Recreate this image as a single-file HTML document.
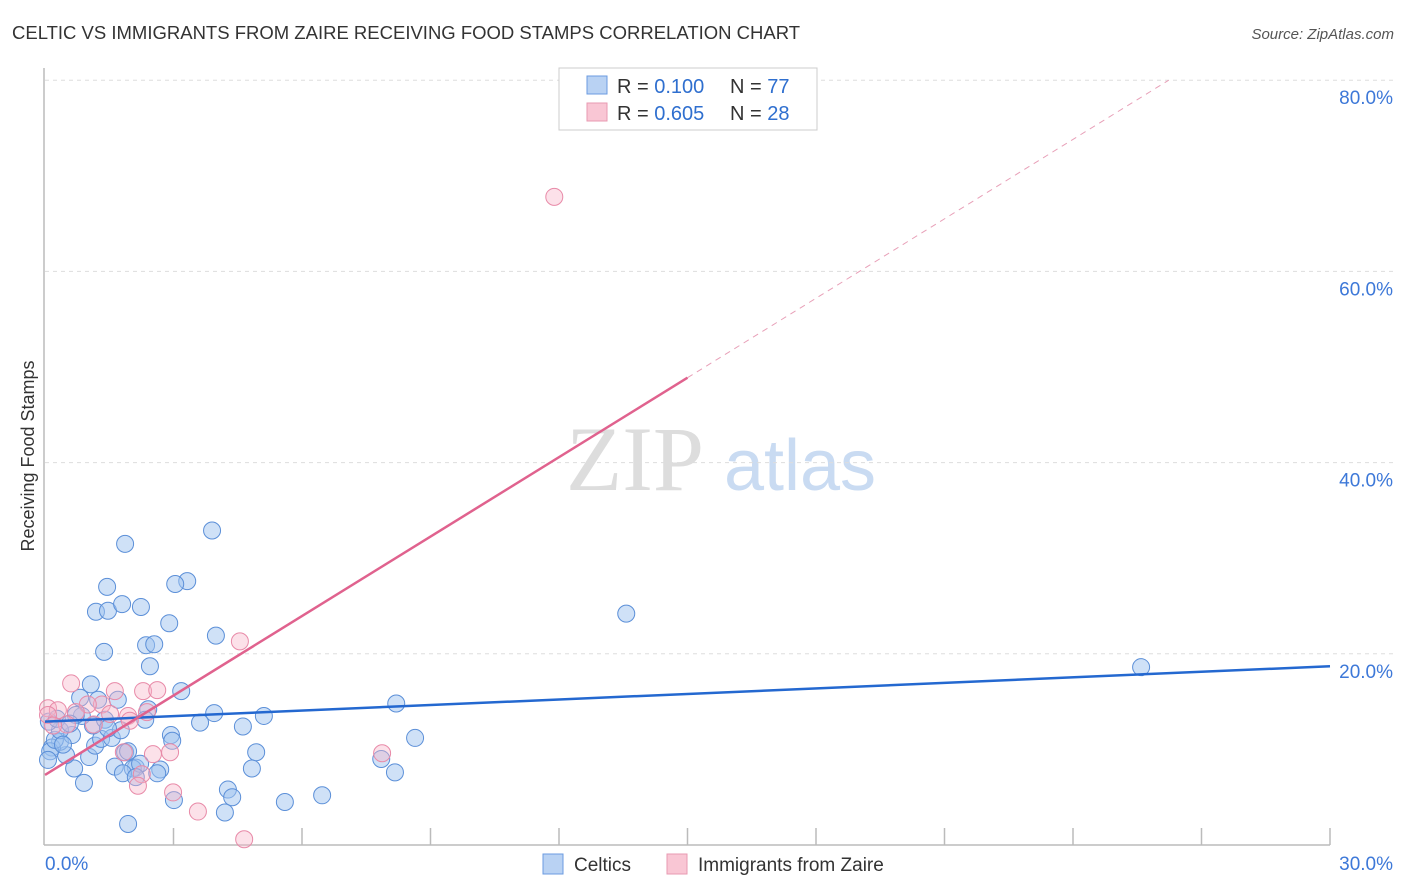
<!DOCTYPE html>
<html><head><meta charset="utf-8"><style>
body{margin:0;background:#fff;font-family:"Liberation Sans",sans-serif;}
svg{display:block}
</style></head><body>
<svg id="c" width="1406" height="892" xmlns="http://www.w3.org/2000/svg">
<text x="12" y="39" font-size="18.5" fill="#333">CELTIC VS IMMIGRANTS FROM ZAIRE RECEIVING FOOD STAMPS CORRELATION CHART</text>
<text x="1394" y="39" font-size="15" fill="#555" font-style="italic" text-anchor="end">Source: ZipAtlas.com</text>
<text x="34" y="456" font-size="18" fill="#333" text-anchor="middle" transform="rotate(-90 34 456)">Receiving Food Stamps</text>
<g><text x="635" y="490" font-size="92" fill="#ddd" font-family="Liberation Serif,serif" text-anchor="middle">ZIP</text><text x="800" y="490" font-size="72" fill="#c9dbf2" text-anchor="middle">atlas</text></g>
<g id="grid"></g><g id="axes"></g><g id="pts"></g><g id="lines"></g>
<g>
<rect x="559" y="68" width="258" height="62" fill="#fff" stroke="#ccc"/>
<rect x="587" y="76" width="20" height="18" fill="#b9d2f3" stroke="#6b9be0"/>
<rect x="587" y="103" width="20" height="18" fill="#f9c6d4" stroke="#e89ab2"/>
<text x="617" y="93" font-size="20" fill="#333">R = <tspan fill="#2f6fcf">0.100</tspan></text>
<text x="730" y="93" font-size="20" fill="#333">N = <tspan fill="#2f6fcf">77</tspan></text>
<text x="617" y="120" font-size="20" fill="#333">R = <tspan fill="#2f6fcf">0.605</tspan></text>
<text x="730" y="120" font-size="20" fill="#333">N = <tspan fill="#2f6fcf">28</tspan></text>
</g>
<g>
<rect x="543" y="854" width="20" height="20" fill="#b9d2f3" stroke="#6b9be0"/>
<text x="574" y="871" font-size="19" fill="#333">Celtics</text>
<rect x="667" y="854" width="20" height="20" fill="#f9c6d4" stroke="#e89ab2"/>
<text x="698" y="871" font-size="19" fill="#333">Immigrants from Zaire</text>
</g>
</svg>
<script>
const yTicks=[20,40,60,80];
const yTickLabels=["20.0%","40.0%","60.0%","80.0%"];
const xTickLabels=["0.0%","30.0%"];
const blueX=[3.90,1.87,1.45,3.32,3.04,1.19,1.47,1.80,2.24,2.90,3.99,2.36,2.55,1.38,2.45,3.18,1.70,1.07,0.82,1.24,3.95,2.41,2.34,3.62,5.11,4.62,2.94,2.97,8.20,8.64,7.85,8.17,13.57,25.59,4.93,4.83,4.27,4.37,5.60,6.47,4.20,3.01,1.94,2.69,2.62,2.12,2.05,1.63,1.82,0.91,0.68,1.03,0.49,0.35,0.16,0.12,0.23,0.63,0.35,1.17,1.31,1.56,1.12,1.77,1.40,0.86,1.87,2.22,2.12,0.09,0.28,0.72,1.94,0.07,0.42,0.58,1.47];
const blueY=[32.9,31.5,27.0,27.6,27.3,24.4,24.5,25.2,24.9,23.2,21.9,20.9,21.0,20.2,18.7,16.1,15.2,16.8,15.4,15.2,13.8,14.2,13.1,12.8,13.5,12.4,11.5,10.9,14.8,11.2,9.0,7.6,24.2,18.6,9.7,8.0,5.8,5.0,4.5,5.2,3.4,4.7,2.2,7.9,7.5,8.1,8.0,8.2,7.5,6.5,8.0,9.2,9.4,10.8,10.2,9.8,11.0,11.5,12.0,10.4,11.1,11.2,12.5,12.0,13.1,13.5,9.7,8.5,7.1,12.9,13.2,13.6,9.8,8.9,10.5,12.7,12.2];
const pinkX=[11.89,4.55,0.61,1.63,2.29,2.62,1.33,0.07,0.30,1.00,2.38,1.94,1.52,0.72,0.51,0.07,0.19,1.84,2.52,2.92,2.26,2.17,2.99,3.57,4.65,7.87,1.14,1.98];
const pinkY=[67.8,21.3,16.9,16.1,16.1,16.2,14.7,14.3,14.1,14.7,13.9,13.5,13.7,13.9,12.6,13.6,12.5,9.7,9.5,9.7,7.4,6.2,5.5,3.5,0.6,9.6,12.6,13.0];
const blueLine=[12.9,18.7];
const pinkLine=[7.33,2.77];
const NS="http://www.w3.org/2000/svg";
const X=v=>45+v/30*1285, Y=v=>845-v/20*191.2;
function mk(t,a,p){const e=document.createElementNS(NS,t);for(const k in a)e.setAttribute(k,a[k]);p.appendChild(e);return e;}
const grid=document.getElementById('grid'),axes=document.getElementById('axes'),pts=document.getElementById('pts'),lines=document.getElementById('lines');
yTicks.forEach((t,i)=>{
 const g=mk('line',{x1:45,x2:1395,y1:Y(t),y2:Y(t),stroke:'#ddd','stroke-dasharray':'4,4'},grid);
 
 
 const l=mk('text',{x:1393,y:Y(t)+24,'font-size':19,fill:'#3d78d8','text-anchor':'end'},axes);l.textContent=yTickLabels[i];
 
 
});
mk('line',{x1:44,x2:44,y1:68,y2:845,stroke:'#bbb','stroke-width':1.5},axes);
mk('line',{x1:44,x2:1330,y1:845,y2:845,stroke:'#bbb','stroke-width':1.5},axes);
for(let i=1;i<=10;i++){const t=mk('line',{x1:X(i*3),x2:X(i*3),y1:828,y2:845,stroke:'#bbb','stroke-width':1.5},axes);
 
 }
const x0=mk('text',{x:45,y:870,'font-size':19,fill:'#3d78d8'},axes);x0.textContent=xTickLabels[0];


const x1=mk('text',{x:1393,y:870,'font-size':19,fill:'#3d78d8','text-anchor':'end'},axes);x1.textContent=xTickLabels[1];


blueX.forEach((v,i)=>{const c=mk('circle',{cx:X(v),cy:Y(blueY[i]),r:8.5,fill:'rgba(160,196,240,0.5)',stroke:'#5b8fd8','stroke-width':1},pts);
 
 });
pinkX.forEach((v,i)=>{const c=mk('circle',{cx:X(v),cy:Y(pinkY[i]),r:8.5,fill:'rgba(248,180,200,0.4)',stroke:'#e88aa8','stroke-width':1},pts);
 
 });
const bl=mk('line',{x1:X(0),y1:Y(blueLine[0]),x2:X(30),y2:Y(blueLine[1]),stroke:'#2468d0','stroke-width':2.5},lines);


const pe=15,pd=(80-pinkLine[0])/pinkLine[1];
const ps=mk('line',{x1:X(0),y1:Y(pinkLine[0]),x2:X(pe),y2:Y(pinkLine[0]+pinkLine[1]*pe),stroke:'#e0628e','stroke-width':2.5},lines);


const pdl=mk('line',{x1:X(pe),y1:Y(pinkLine[0]+pinkLine[1]*pe),x2:X(pd),y2:Y(80),stroke:'#e8a0b8','stroke-width':1,'stroke-dasharray':'6,5'},lines);


</script>
</body></html>
